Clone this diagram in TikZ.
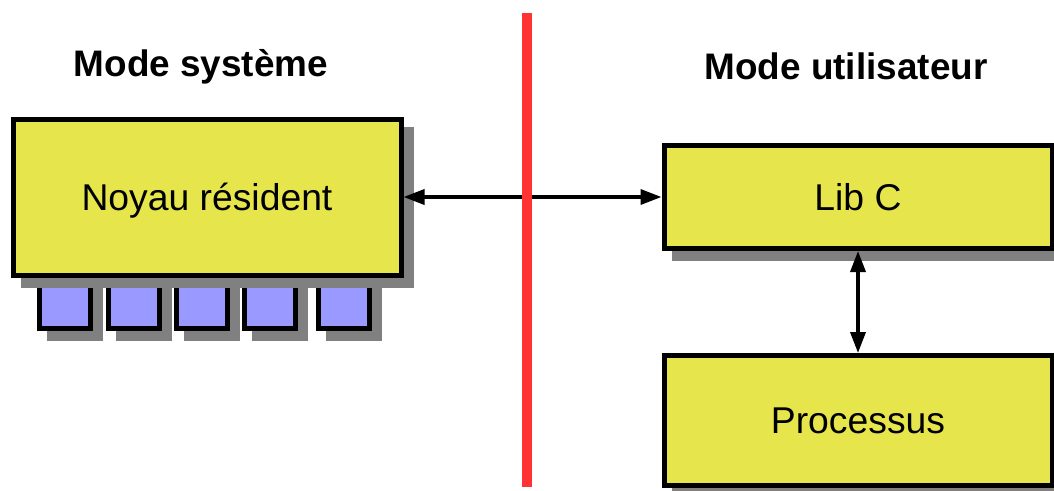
\documentclass[tikz,border=0pt]{standalone}
\usepackage{fontspec}
\setmainfont{Liberation Sans}
\usetikzlibrary{arrows.meta,shadows}
\definecolor{boxyellow}{RGB}{230,230,76}
\definecolor{boxblue}{RGB}{153,153,255}
\definecolor{shadowgray}{RGB}{128,128,128}
\definecolor{sepred}{RGB}{255,51,51}
\tikzset{
  shade10/.style={drop shadow={shadow xshift=10pt,shadow yshift=-10pt,fill=shadowgray,draw=shadowgray,line width=5pt,opacity=1}},
  bigbox/.style={draw=black,line width=5pt,fill=boxyellow,rectangle,inner sep=0pt,
    text height=26pt,text depth=0pt,font=\fontsize{37.3}{41}\selectfont,shade10},
  slot/.style={draw=black,line width=5pt,fill=boxblue,rectangle,inner sep=0pt,
    minimum width=51pt,minimum height=68pt,shade10},
  title/.style={anchor=base,inner sep=0pt,font=\fontsize{36.9}{41}\selectfont\bfseries},
  link/.style={line width=3.5pt,{Triangle[length=21pt,width=15pt]}-{Triangle[length=21pt,width=15pt]}},
  separator/.style={line width=10pt,draw=sepred}
}
\begin{document}
\begin{tikzpicture}[x=1pt,y=-1pt]
\useasboundingbox (0,0) rectangle (1054,490);
% slots under the kernel box
\node[slot] (s1) at (65,294) {};
\node[slot] (s2) at (133.5,294) {};
\node[slot] (s3) at (201.5,294) {};
\node[slot] (s4) at (270,294) {};
\node[slot] (s5) at (343.5,294) {};
% boxes
\node[bigbox,minimum width=388pt,minimum height=156pt] (noyau) at (207,197) {Noyau résident};
\node[bigbox,minimum width=388pt,minimum height=103pt] (libc) at (858,197) {Lib C};
\node[bigbox,minimum width=388pt,minimum height=130pt] (proc) at (858,420.5) {Processus};
% titles
\node[title] (tsys) at (201,76) {Mode système};
\node[title] (tusr) at (846,79.5) {Mode utilisateur};
% connectors
\draw[link] (noyau.east) -- (libc.west);
\draw[link] (libc.south) -- (proc.north);
% separator
\coordinate (redtop) at (527,13);
\coordinate (redbot) at (527,487);
\draw[separator] (redtop) -- (redbot);
\end{tikzpicture}
\end{document}
